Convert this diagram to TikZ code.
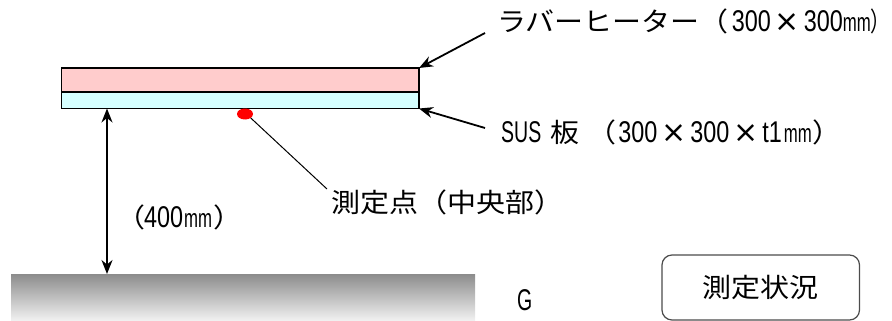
\documentclass[tikz,border=0pt]{standalone}
\usepackage{fontspec}
\usetikzlibrary{arrows.meta,shapes.geometric}
\newfontfamily\jpfont[FakeStretch=1.094]{Noto Sans CJK JP}
\newfontfamily\clfont[FakeStretch=0.74]{Noto Sans CJK JP}
\newfontfamily\dgfont[FakeStretch=0.78]{Liberation Sans}
\newfontfamily\nrfont[FakeStretch=0.65]{Liberation Sans}
\newfontfamily\mmfont[FakeStretch=0.645]{Liberation Sans}
\newfontfamily\tmsfont{DejaVu Sans}
\newcommand\dg[1]{{\fontsize{30}{30}\selectfont\dgfont #1}}
\newcommand\nr[1]{{\fontsize{30}{30}\selectfont\nrfont #1}}
\newcommand\mmu{{\fontsize{26}{30}\selectfont\mmfont mm}}
\newcommand\tms{\makebox[33pt][c]{\fontsize{30}{30}\selectfont\tmsfont ×}}
\definecolor{heatfill}{HTML}{FFCCCC}
\definecolor{susfill}{HTML}{D5FFFF}
\tikzset{
  x=1pt,y=-1pt,
  lab/.style={anchor=base west,inner sep=0pt,font=\fontsize{26.5}{30}\selectfont\jpfont},
  plate/.style={draw=black,line width=1.5pt,minimum width=357.5pt,inner sep=0pt,outer sep=0pt},
  tip/.style={-{Stealth[length=14pt,width=11pt]},line width=1.8pt},
}
\begin{document}
\begin{tikzpicture}
\useasboundingbox (0,0) rectangle (892,321);
\node[plate,fill=heatfill,minimum height=24pt] (heater) at (240.25,80) {};
\node[plate,fill=susfill,minimum height=16.5pt] (sus) at (240.25,100.25) {};
\node[ellipse,fill=red,minimum width=16pt,minimum height=11pt,inner sep=0pt,outer sep=0pt] (dot) at (245,114) {};
\node[inner sep=0pt,outer sep=0pt,minimum width=464pt,minimum height=47pt,top color=black!45,bottom color=black!5] (ground) at (243,297.5) {};
\node[lab] (lheater) at (497,32) {ラバーヒーター（\kern3pt\dg{300}\tms\dg{300}\mmu{\clfont ）}};
\node[lab] (lsus) at (501,142) {\nr{SUS}\kern9pt 板\kern8pt（\kern2pt\dg{300}\tms\dg{300}\tms\dg{t1}\kern2pt\mmu\kern1pt）};
\node[lab] (lpoint) at (331,212) {測定点\kern0pt（中央部）};
\node[lab] (lheight) at (116,227) {（\kern-1pt\dg{400}\kern1pt\mmu\kern1pt）};
\node[lab] (lg) at (517,310) {\nr{G}};
\node[draw=black!70,line width=1.2pt,rounded corners=10pt,minimum width=197.5pt,minimum height=65pt,inner sep=0pt,font=\fontsize{26.5}{30}\selectfont\jpfont] (status) at (760.75,287.5) {測定状況};
\coordinate (hfree) at (485,33);
\coordinate (sfree) at (485,128);
\coordinate (pfree) at (327,189);
\coordinate (dx) at (107,0);
\coordinate (dtop) at (sus.south -| dx);
\coordinate (dbot) at (ground.north -| dx);
\draw[tip] (hfree) -- (heater.north east);
\draw[tip] (sfree) -- (sus.south east);
\draw[line width=1pt] (dot.south east) -- (pfree);
\draw[{Stealth[length=14pt,width=11pt]}-{Stealth[length=14pt,width=11pt]},line width=1.8pt] (dtop) -- (dbot);
\end{tikzpicture}
\end{document}
